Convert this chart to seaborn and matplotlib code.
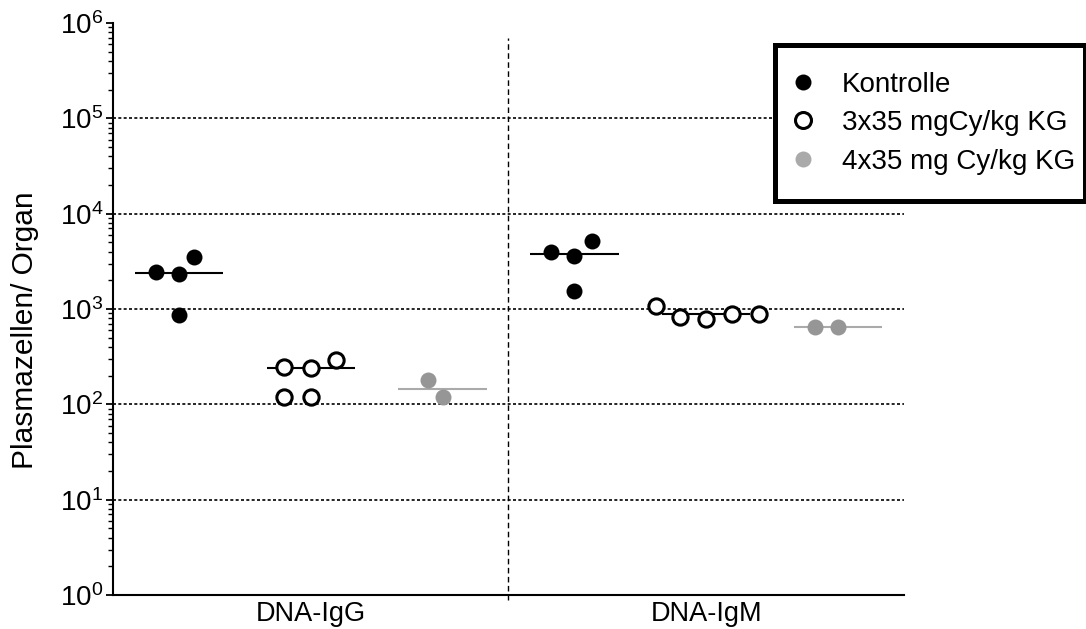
import pandas as pd
import matplotlib
matplotlib.use("Agg")
import matplotlib.pyplot as plt
import matplotlib.ticker as mticker
from matplotlib.lines import Line2D
import seaborn as sns

# Werte (Plasmazellen pro Organ)
antigens = ["DNA-IgG", "DNA-IgM"]
treatments = ["Kontrolle", "3x35 mgCy/kg KG", "4x35 mg Cy/kg KG"]

igg_kontrolle = [2450, 2330, 3500, 870]
igg_3x35 = [246, 240, 292, 119, 119]
igg_4x35 = [119, 180]

igm_kontrolle = [3960, 3600, 5170, 1550]
igm_3x35 = [887, 1076, 785, 887, 824]
igm_4x35 = [650, 650]

y_ticks = [1e0, 1e1, 1e2, 1e3, 1e4, 1e5, 1e6]
decades = [1e1, 1e2, 1e3, 1e4, 1e5]

# Stil pro Gruppe
point_face = {"Kontrolle": "black", "3x35 mgCy/kg KG": "white", "4x35 mg Cy/kg KG": "#969696"}
point_edge = {"Kontrolle": "black", "3x35 mgCy/kg KG": "black", "4x35 mg Cy/kg KG": "#969696"}
point_lw = {"Kontrolle": 0, "3x35 mgCy/kg KG": 2.2, "4x35 mg Cy/kg KG": 0}
point_size = {"Kontrolle": 11.5, "3x35 mgCy/kg KG": 11.0, "4x35 mg Cy/kg KG": 11.5}
median_color = {"Kontrolle": "black", "3x35 mgCy/kg KG": "black", "4x35 mg Cy/kg KG": "#aaaaaa"}
legend_face = {"Kontrolle": "black", "3x35 mgCy/kg KG": "white", "4x35 mg Cy/kg KG": "#aaaaaa"}

# Abstand der Punkte im Schwarm (GraphPad setzt sie lockerer als die Markergroesse)
swarm_size = 16


def build_frame():
    series = {
        ("DNA-IgG", treatments[0]): igg_kontrolle,
        ("DNA-IgG", treatments[1]): igg_3x35,
        ("DNA-IgG", treatments[2]): igg_4x35,
        ("DNA-IgM", treatments[0]): igm_kontrolle,
        ("DNA-IgM", treatments[1]): igm_3x35,
        ("DNA-IgM", treatments[2]): igm_4x35,
    }
    rows = []
    for (antigen, treat), vals in series.items():
        for v in vals:
            rows.append({"antigen": antigen, "treatment": treat,
                         "slot": f"{antigen}|{treat}", "value": v})
    return pd.DataFrame(rows)


df = build_frame()
slot_order = [f"{a}|{t}" for a in antigens for t in treatments]

sns.set_theme(style="ticks")
plt.rcParams["font.family"] = ["Liberation Sans", "DejaVu Sans"]
plt.rcParams["mathtext.fontset"] = "custom"
plt.rcParams["mathtext.rm"] = "Liberation Sans"
plt.rcParams["text.color"] = "black"

fig, ax = plt.subplots(figsize=(10.86, 6.29), dpi=100)
fig.subplots_adjust(left=0.104, right=0.8324, bottom=0.054, top=0.9634)

ax.set_yscale("log")
ax.set_ylim(y_ticks[0], y_ticks[-1])
ax.set_xlim(-0.5, len(slot_order) - 0.5)

# horizontale Hilfslinien
for d in decades:
    ax.axhline(d, color="black", lw=1.2, linestyle=(0, (1.8, 1.4)), zorder=0)

# Trennlinie zwischen den Antigenen
ax.axvline(len(treatments) - 0.5, ymin=-0.009, ymax=0.974, color="black",
           lw=1.0, linestyle=(0, (4, 2.5)), clip_on=False, zorder=0)

swarms = []
for treat in treatments:
    sub = df[df["treatment"] == treat]
    # Median als waagerechter Strich
    sns.boxplot(data=sub, x="slot", y="value", order=slot_order, width=0.67,
                showbox=False, showcaps=False, showfliers=False,
                whiskerprops={"linewidth": 0},
                medianprops={"color": median_color[treat], "linewidth": 1.5},
                ax=ax)
    n_before = len(ax.collections)
    sns.swarmplot(data=sub, x="slot", y="value", order=slot_order,
                  color=point_face[treat], edgecolor=point_edge[treat],
                  linewidth=point_lw[treat], size=swarm_size,
                  ax=ax, zorder=3)
    swarms.append((treat, ax.collections[n_before:]))

ax.set_xlim(-0.5, len(slot_order) - 0.5)
ax.set_ylim(y_ticks[0], y_ticks[-1])

# x-Beschriftung mittig unter jeder Gruppe
mid = len(treatments) // 2
ax.set_xticks([i * len(treatments) + mid for i in range(len(antigens))])
ax.set_xticklabels(antigens, fontsize=19.5, color="black")
ax.tick_params(axis="x", length=0, pad=4)

ax.yaxis.set_major_locator(mticker.FixedLocator(y_ticks))
ax.yaxis.set_major_formatter(mticker.LogFormatterSciNotation())
ax.yaxis.set_minor_locator(mticker.LogLocator(base=10, subs=range(2, 10), numticks=20))
ax.yaxis.set_minor_formatter(mticker.NullFormatter())
ax.tick_params(axis="y", which="major", length=5, width=1.3, labelsize=20,
               pad=2, labelcolor="black", color="black")
ax.tick_params(axis="y", which="minor", length=3.5, width=1.0, color="black")

ax.set_xlabel("")
ax.set_ylabel("Plasmazellen/ Organ", fontsize=21.5, color="black")
ax.yaxis.set_label_coords(-0.094, 0.463)

sns.despine(ax=ax)
for side in ["left", "bottom"]:
    ax.spines[side].set_linewidth(1.5)
    ax.spines[side].set_color("black")

handles = [Line2D([0], [0], marker="o", linestyle="none", markersize=11.5,
                  markerfacecolor=legend_face[t],
                  markeredgecolor="black" if t != treatments[2] else legend_face[t],
                  markeredgewidth=2.2 if t == treatments[1] else 0)
           for t in treatments]
leg = fig.legend(handles, treatments, loc="upper left",
                 bbox_to_anchor=(0.7136, 0.678, 0.2855, 0.25), mode="expand",
                 fontsize=20, frameon=True, fancybox=False, framealpha=1,
                 borderpad=0.95, handlelength=0.15, handletextpad=1.3,
                 labelspacing=0.45, borderaxespad=0, labelcolor="black")
leg.get_frame().set_edgecolor("black")
leg.get_frame().set_linewidth(3.6)

# Schwarm einmal mit weitem Abstand anordnen lassen, dann Marker verkleinern
fig.canvas.draw()
for treat, colls in swarms:
    for coll in colls:
        if "draw" in coll.__dict__:
            del coll.draw
        coll.set_sizes([point_size[treat] ** 2])

fig.savefig("out.png", dpi=100)
